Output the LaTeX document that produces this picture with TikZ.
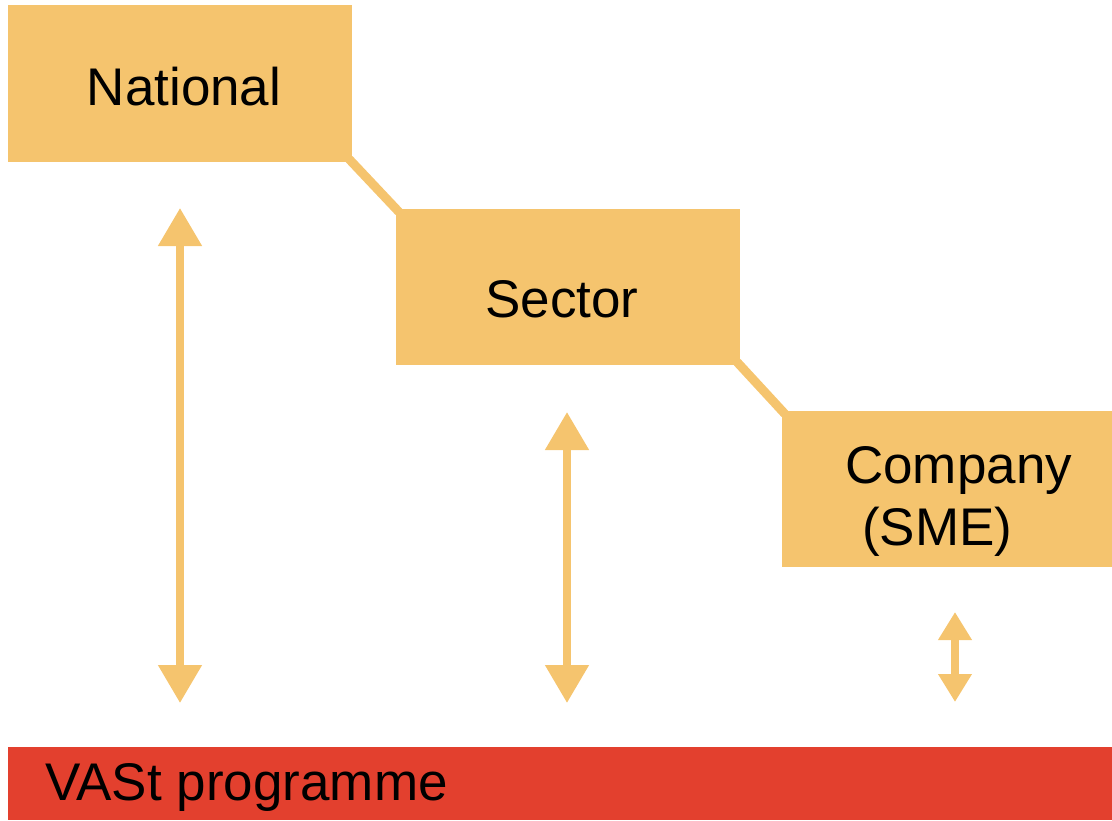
\documentclass[tikz,border=0pt]{standalone}
\usepackage{fontspec}
\setmainfont{Liberation Sans}
\usetikzlibrary{arrows.meta}
\definecolor{boxor}{HTML}{F5C46E}
\definecolor{barred}{HTML}{E3402E}
\begin{document}
\begin{tikzpicture}[x=1pt,y=-1pt,
  level/.style={fill=boxor,draw=none,inner sep=0pt},
  lbl/.style={font=\fontsize{53}{62}\selectfont},
  link/.style={draw=boxor,line width=9pt},
  bigarrow/.style={draw=boxor,line width=8pt,{Triangle[width=42pt,length=38pt]}-{Triangle[width=42pt,length=38pt]}},
  smallarrow/.style={draw=boxor,line width=8pt,{Triangle[width=32pt,length=28pt]}-{Triangle[width=32pt,length=28pt]}}]
\useasboundingbox (0,0) rectangle (1112,820);
\node[level,minimum width=344pt,minimum height=157pt] (nat) at (180,83.5) {};
\node[level,minimum width=344pt,minimum height=156pt] (sec) at (568,287) {};
\node[level,minimum width=330pt,minimum height=156pt] (com) at (947,489) {};
\node[fill=barred,inner sep=0pt,minimum width=1104pt,minimum height=73pt] (bar) at (560,783.5) {};
\node[lbl,anchor=base] (natt) at (184,105) {National};
\node[lbl,anchor=base] (sect) at (562,317) {Sector};
\node[lbl,anchor=base west,inner sep=0pt] (comt) at (845,483) {Company};
\node[lbl,anchor=base west,inner sep=0pt] (smet) at (862,545) {(SME)};
\node[lbl,anchor=base west,inner sep=0pt] (bart) at (45,800) {VASt programme};
\draw[link] ([shift={(-3pt,3pt)}]nat.south east) -- ([shift={(3pt,-3pt)}]sec.north west);
\draw[link] ([shift={(-3pt,3pt)}]sec.south east) -- ([shift={(3pt,-3pt)}]com.north west);
\coordinate (a1) at (180,208);
\coordinate (b1) at (180,703);
\coordinate (a2) at (567,412);
\coordinate (b2) at (567,703);
\coordinate (a3) at (955,612);
\coordinate (b3) at (955,702);
\draw[bigarrow] (a1) -- (b1);
\draw[bigarrow] (a2) -- (b2);
\draw[smallarrow] (a3) -- (b3);
\end{tikzpicture}
\end{document}
